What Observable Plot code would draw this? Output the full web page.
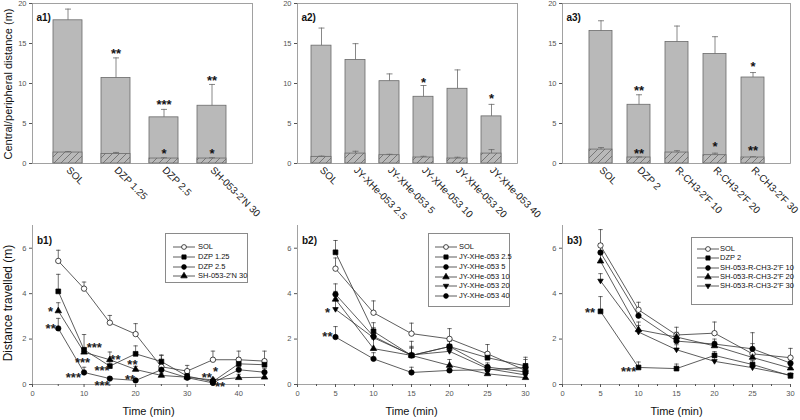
<!DOCTYPE html>
<html><head><meta charset="utf-8">
<script src="https://cdn.jsdelivr.net/npm/d3@7"></script>
<script src="https://cdn.jsdelivr.net/npm/@observablehq/plot@0.6"></script>
<style>
body{margin:0;background:#fff;}
#root{position:relative;width:800px;height:420px;overflow:hidden;font-family:"Liberation Sans",Arial,sans-serif;background:#fff;}
.ylab{position:absolute;white-space:nowrap;transform:translate(-50%,-50%) rotate(-90deg);color:#111;}
.leg{position:absolute;border:1px solid #8a8a8a;background:#fff;box-sizing:border-box;}
.leg .row{position:absolute;left:0;height:10px;font-size:7.5px;color:#111;white-space:nowrap;}
.leg .row svg{position:absolute;left:0;top:0;}
.leg .row span{position:absolute;top:0;line-height:10px;}
</style></head><body>
<svg width="0" height="0" style="position:absolute"><defs>
<pattern id="hatch" patternUnits="userSpaceOnUse" width="7" height="7">
<rect width="7" height="7" fill="#b9b9b9"/>
<path d="M-1,1L1,-1M0,7L7,0M6,8L8,6" stroke="#5a5a5a" stroke-width="0.7"/>
</pattern></defs></svg>
<div id="root"></div>
<script>
// ---------- data: panel a1 ----------
const a1Groups = ["SOL", "DZP 1.25", "DZP 2.5", "SH-053-2'N 30"];
const a1Total = [17.9, 10.7, 5.77, 7.22];
const a1TotalErr = [19.3, 13.2, 6.76, 9.88];
const a1Central = [1.37, 1.2, 0.62, 0.62];
const a1CentralErr = [1.5, 1.38, 0.72, 0.72];
const a1Stars = [
  {g: "DZP 1.25", y: 14.1, s: "**"}, {g: "DZP 2.5", y: 7.7, s: "***"}, {g: "SH-053-2'N 30", y: 10.8, s: "**"},
  {g: "DZP 2.5", y: 1.58, s: "*"}, {g: "SH-053-2'N 30", y: 1.58, s: "*"}
];
// ---------- data: panel a2 ----------
const a2Groups = ["SOL", "JY-XHe-053 2.5", "JY-XHe-053 5", "JY-XHe-053 10", "JY-XHe-053 20", "JY-XHe-053 40"];
const a2Total = [14.73, 12.95, 10.29, 8.34, 9.34, 5.89];
const a2TotalErr = [16.93, 14.98, 11.2, 9.75, 11.7, 7.39];
const a2Central = [0.83, 1.24, 1.04, 0.75, 0.62, 1.24];
const a2CentralErr = [0.92, 1.53, 1.15, 0.9, 0.78, 1.74];
const a2Stars = [{g: "JY-XHe-053 10", y: 10.46, s: "*"}, {g: "JY-XHe-053 40", y: 8.5, s: "*"}];
// ---------- data: panel a3 ----------
const a3Groups = ["SOL", "DZP 2", "R-CH3-2'F 10", "R-CH3-2'F 20", "R-CH3-2'F 30"];
const a3Total = [16.56, 7.34, 15.19, 13.69, 10.75];
const a3TotalErr = [17.84, 8.59, 17.18, 15.85, 11.37];
const a3Central = [1.74, 0.75, 1.37, 1.04, 0.75];
const a3CentralErr = [1.99, 0.82, 1.6, 1.29, 0.85];
const a3Stars = [
  {g: "DZP 2", y: 9.54, s: "**"}, {g: "R-CH3-2'F 30", y: 12.5, s: "*"},
  {g: "DZP 2", y: 1.66, s: "**"}, {g: "R-CH3-2'F 20", y: 2.57, s: "*"}, {g: "R-CH3-2'F 30", y: 1.95, s: "**"}
];
// ---------- data: panel b1 ----------
const b1Time = [5, 10, 15, 20, 25, 30, 35, 40, 45];
const b1XTicks = [0, 10, 20, 30, 40];
const b1XMinor = [5, 15, 25, 35, 45];
const b1SOL = [5.44, 4.22, 2.72, 2.22, 0.78, 0.59, 1.09, 1.09, 1.03];
const b1SOLErr = [5.91, 4.51, 3.04, 2.68, 1.3, 0.84, 1.47, 1.47, 1.47];
const b1DZP125 = [4.1, 1.53, 0.81, 1.35, 1.01, 0.37, 0.13, 0.91, 0.87];
const b1DZP125Err = [4.85, 2.2, 1.0, 1.7, 1.28, 0.5, 0.2, 1.18, 1.1];
const b1DZP25 = [2.47, 0.53, 0.26, 0.18, 0.65, 0.3, 0.07, 0.65, 0.54];
const b1DZP25Err = [2.91, 0.76, 0.35, 0.25, 0.85, 0.38, 0.12, 0.8, 0.7];
const b1SH = [3.24, 1.42, 1.09, 0.66, 0.4, 0.32, 0.2, 0.3, 0.32];
const b1SHErr = [3.6, 1.6, 1.43, 0.8, 0.5, 0.4, 0.28, 0.45, 0.5];
const b1Stars = [
  {x: 4.0, y: 3.34, s: "*", a: "end"}, {x: 4.5, y: 2.6, s: "**", a: "end"},
  {x: 10.5, y: 1.76, s: "***", a: "start"}, {x: 9.7, y: 1.12, s: "***", a: "middle"},
  {x: 9.4, y: 0.44, s: "***", a: "end"}, {x: 15.1, y: 1.24, s: "**", a: "start"},
  {x: 14.95, y: 0.74, s: "***", a: "end"}, {x: 14.95, y: 0.08, s: "***", a: "end"},
  {x: 18.4, y: 1.0, s: "**", a: "start"}, {x: 19.9, y: 0.34, s: "**", a: "end"},
  {x: 34.8, y: 0.43, s: "**", a: "end"}, {x: 35.0, y: 0.7, s: "*", a: "start"},
  {x: 35.4, y: 0.03, s: "**", a: "start"}
];
// ---------- data: panel b2 ----------
const b2Time = [5, 10, 15, 20, 25, 30];
const b2XTicks = [0, 5, 10, 15, 20, 25, 30];
const b2XMinor = [2.5, 7.5, 12.5, 17.5, 22.5, 27.5];
const b2SOL = [5.1, 3.16, 2.24, 2.01, 1.35, 0.62];
const b2SOLErr = [5.57, 3.68, 2.7, 2.46, 1.76, 0.9];
const b2JY25 = [5.82, 2.34, 1.28, 1.67, 1.18, 0.82];
const b2JY25Err = [6.34, 2.72, 1.62, 1.95, 1.35, 1.2];
const b2JY5 = [3.97, 2.12, 1.28, 1.67, 0.77, 0.55];
const b2JY5Err = [4.43, 2.5, 1.9, 1.9, 0.95, 0.7];
const b2JY10 = [3.75, 1.58, 1.28, 0.84, 0.47, 0.3];
const b2JY10Err = [4.1, 2.0, 1.68, 1.1, 0.6, 0.4];
const b2JY20 = [3.31, 2.06, 1.3, 1.46, 0.7, 0.42];
const b2JY20Err = [3.7, 2.4, 1.6, 1.7, 0.85, 0.55];
const b2JY40 = [2.09, 1.13, 0.53, 0.62, 0.65, 0.75];
const b2JY40Err = [2.55, 1.4, 0.76, 0.85, 0.85, 1.1];
const b2Stars = [{x: 4.3, y: 3.32, s: "*", a: "end"}, {x: 4.6, y: 2.24, s: "**", a: "end"}];
// ---------- data: panel b3 ----------
const b3Time = [5, 10, 15, 20, 25, 30];
const b3SOL = [6.12, 3.29, 2.18, 2.26, 1.35, 1.18];
const b3SOLErr = [6.82, 3.62, 2.52, 2.75, 1.8, 1.59];
const b3DZP2 = [3.22, 0.75, 0.7, 1.28, 0.88, 0.38];
const b3DZP2Err = [3.87, 0.99, 0.9, 1.45, 1.05, 0.5];
const b3R10 = [5.81, 3.03, 1.91, 1.78, 1.57, 0.94];
const b3R10Err = [6.2, 3.3, 2.25, 2.0, 2.28, 1.1];
const b3R20 = [5.43, 2.41, 2.09, 1.7, 1.19, 0.72];
const b3R20Err = [5.75, 2.75, 2.3, 1.9, 1.4, 0.85];
const b3R30 = [4.56, 2.31, 1.53, 1.02, 0.74, 0.41];
const b3R30Err = [4.88, 2.6, 1.75, 1.2, 0.9, 0.5];
const b3Stars = [{x: 4.3, y: 3.29, s: "**", a: "end"}, {x: 9.7, y: 0.72, s: "***", a: "end"}];

// ---------- styling ----------
const FONT = '"Liberation Sans", Arial, sans-serif';
const BAR_FILL = "#b9b9b9", BAR_STROKE = "#6a6a6a", AXIS = "#8a8a8a", TICKTXT = "#555", INK = "#222";
const STAR_SIZE = 13, STAR_DY = 3.4;
const STYLE = {fontFamily: FONT, overflow: "visible", background: "transparent", color: INK};
const fmt = d => String(d);
const cap = {draw(ctx, size) { const r = Math.sqrt(size / Math.PI); ctx.moveTo(-r, 0); ctx.lineTo(r, 0); }};
const triDown = {draw(ctx, size) {
  const r = Math.sqrt(size / Math.PI) * 1.2;
  ctx.moveTo(0, r); ctx.lineTo(r * 0.95, -r * 0.6); ctx.lineTo(-r * 0.95, -r * 0.6); ctx.closePath();
}};
const root = document.getElementById("root");
function place(el, left, top) {
  el.style.position = "absolute"; el.style.left = left + "px"; el.style.top = top + "px";
  root.append(el);
}

function barPanel(cfg) {
  const rows = cfg.groups.map((g, i) => ({g, total: cfg.total[i], totalErr: cfg.totalErr[i], central: cfg.central[i], centralErr: cfg.centralErr[i]}));
  return Plot.plot({
    width: cfg.width, height: 220, marginLeft: 32, marginRight: cfg.marginRight, marginTop: 3, marginBottom: 57,
    style: STYLE,
    x: {type: "band", domain: cfg.groups, paddingInner: 0.4, paddingOuter: 0.4, insetLeft: cfg.insetLeft, insetRight: cfg.insetRight, label: null},
    y: {domain: [0, 20], label: null},
    marks: [
      Plot.barY(rows, {x: "g", y: "total", fill: BAR_FILL, stroke: BAR_STROKE, strokeWidth: 0.8}),
      Plot.ruleX(rows, {x: "g", y1: "total", y2: "totalErr", stroke: BAR_STROKE, strokeWidth: 0.8}),
      Plot.dot(rows, {x: "g", y: "totalErr", symbol: cap, r: 3, stroke: BAR_STROKE, strokeWidth: 0.8}),
      Plot.barY(rows, {x: "g", y: "central", fill: "url(#hatch)", stroke: BAR_STROKE, strokeWidth: 0.8}),
      Plot.ruleX(rows, {x: "g", y1: "central", y2: "centralErr", stroke: BAR_STROKE, strokeWidth: 0.8}),
      Plot.dot(rows, {x: "g", y: "centralErr", symbol: cap, r: 3, stroke: BAR_STROKE, strokeWidth: 0.8}),
      Plot.frame({stroke: AXIS, strokeWidth: 0.8}),
      Plot.axisY({ticks: [0, 5, 10, 15, 20], tickFormat: fmt, tickSize: 3, tickPadding: 3, fontSize: 7.5, color: TICKTXT, label: null}),
      Plot.axisX({tickRotate: 45, tickSize: 0, tickPadding: 5, fontSize: 10, color: INK, label: null}),
      Plot.text(cfg.stars, {x: "g", y: "y", text: "s", fontSize: STAR_SIZE, fontWeight: "bold", dy: STAR_DY, fill: "#111", opacity: 0.99}),
      Plot.text([cfg.label], {frameAnchor: "top-left", dx: 4, dy: 10, fontSize: 10, fontWeight: "bold", textAnchor: "start", fill: "#111"})
    ]
  });
}

function linePanel(cfg) {
  const rows = cfg.series.flatMap(s => cfg.time.map((t, i) => ({name: s.name, t, v: s.mean[i], e: s.err[i]})));
  const starMarks = ["start", "middle", "end"].map(a =>
    Plot.text(cfg.stars.filter(d => d.a === a), {x: "x", y: "y", text: "s", textAnchor: a, fontSize: STAR_SIZE, fontWeight: "bold", dy: STAR_DY, fill: "#222", opacity: 0.99}));
  return Plot.plot({
    width: cfg.width, height: 205, marginLeft: 32, marginRight: cfg.marginRight, marginTop: 10, marginBottom: 36,
    style: STYLE,
    x: {domain: [0, cfg.xMax], label: null},
    y: {domain: [0, 7], label: null},
    marks: [
      Plot.ruleX([0], {stroke: AXIS, strokeWidth: 0.8}),
      Plot.ruleY([0], {stroke: AXIS, strokeWidth: 0.8}),
      Plot.axisY({ticks: [0, 2, 4, 6], tickFormat: fmt, tickSize: 3, tickPadding: 3, fontSize: 7.5, color: TICKTXT, label: null}),
      Plot.axisX({ticks: cfg.xTicks, tickFormat: fmt, tickSize: 3, tickPadding: 3, fontSize: 7.5, color: TICKTXT, label: null}),
      Plot.axisX({ticks: cfg.xMinor, tickSize: 2, tickFormat: () => "", color: TICKTXT, label: null}),
      Plot.ruleX(rows, {x: "t", y1: "v", y2: "e", stroke: "#333", strokeWidth: 0.7}),
      Plot.dot(rows, {x: "t", y: "e", symbol: cap, r: 2.2, stroke: "#333", strokeWidth: 0.7}),
      Plot.line(rows, {x: "t", y: "v", z: "name", stroke: "#333", strokeWidth: 0.8}),
      ...cfg.series.map(s => Plot.dot(rows.filter(r => r.name === s.name),
        {x: "t", y: "v", symbol: s.symbol, r: s.r, fill: s.fill, stroke: "#000", strokeWidth: 0.7})),
      ...starMarks,
      Plot.text([cfg.label], {frameAnchor: "top-left", dx: 4.5, dy: 11, fontSize: 10, fontWeight: "bold", textAnchor: "start", fill: "#111"}),
      Plot.text(["Time (min)"], {frameAnchor: "bottom", dy: 30, fontSize: 11, fill: "#111"})
    ]
  });
}

function legend(box, items) {
  const div = document.createElement("div");
  div.className = "leg";
  div.style.left = box.left + "px"; div.style.top = box.top + "px";
  div.style.width = box.width + "px"; div.style.height = box.height + "px";
  items.forEach((it, i) => {
    const row = document.createElement("div");
    row.className = "row";
    row.style.top = (box.row0 + i * box.step - 5) + "px";
    row.style.width = (box.width - 2) + "px";
    const svg = d3.create("svg").attr("width", box.textX).attr("height", 10);
    svg.append("line").attr("x1", box.symX - 11).attr("x2", box.symX + 11).attr("y1", 5).attr("y2", 5)
      .attr("stroke", "#333").attr("stroke-width", 0.8);
    const type = it.symbol === "circle" ? d3.symbolCircle : it.symbol === "square" ? d3.symbolSquare :
      it.symbol === "triangle" ? d3.symbolTriangle : it.symbol;
    svg.append("path").attr("d", d3.symbol().type(type).size(it.size)())
      .attr("transform", `translate(${box.symX},5)`).attr("fill", it.fill).attr("stroke", "#000").attr("stroke-width", 0.7);
    row.append(svg.node());
    const span = document.createElement("span");
    span.style.left = box.textX + "px";
    span.textContent = it.name;
    row.append(span);
    div.append(row);
  });
  root.append(div);
}

function ylab(text, x, y, size) {
  const d = document.createElement("div");
  d.className = "ylab"; d.textContent = text;
  d.style.left = x + "px"; d.style.top = y + "px"; d.style.fontSize = size + "px";
  root.append(d);
}

// ---------- top row ----------
place(barPanel({groups: a1Groups, total: a1Total, totalErr: a1TotalErr, central: a1Central, centralErr: a1CentralErr,
  stars: a1Stars, label: "a1)", width: 265, marginRight: 13, insetLeft: 1, insetRight: 5.6}), 0, 0);
place(barPanel({groups: a2Groups, total: a2Total, totalErr: a2TotalErr, central: a2Central, centralErr: a2CentralErr,
  stars: a2Stars, label: "a2)", width: 265, marginRight: 13, insetLeft: 0.4, insetRight: 1.4}), 265, 0);
place(barPanel({groups: a3Groups, total: a3Total, totalErr: a3TotalErr, central: a3Central, centralErr: a3CentralErr,
  stars: a3Stars, label: "a3)", width: 270, marginRight: 10, insetLeft: 11, insetRight: 10.4}), 530, 0);

// ---------- bottom row ----------
const b1Series = [
  {name: "SOL", mean: b1SOL, err: b1SOLErr, symbol: "circle", fill: "white", r: 2.7},
  {name: "DZP 1.25", mean: b1DZP125, err: b1DZP125Err, symbol: "square", fill: "black", r: 2.7},
  {name: "DZP 2.5", mean: b1DZP25, err: b1DZP25Err, symbol: "circle", fill: "black", r: 2.7},
  {name: "SH-053-2'N 30", mean: b1SH, err: b1SHErr, symbol: "triangle", fill: "black", r: 2.4}
];
const b2Series = [
  {name: "SOL", mean: b2SOL, err: b2SOLErr, symbol: "circle", fill: "white", r: 2.7},
  {name: "JY-XHe-053 2.5", mean: b2JY25, err: b2JY25Err, symbol: "square", fill: "black", r: 2.7},
  {name: "JY-XHe-053 5", mean: b2JY5, err: b2JY5Err, symbol: "circle", fill: "black", r: 2.7},
  {name: "JY-XHe-053 10", mean: b2JY10, err: b2JY10Err, symbol: "triangle", fill: "black", r: 2.4},
  {name: "JY-XHe-053 20", mean: b2JY20, err: b2JY20Err, symbol: triDown, fill: "black", r: 2.4},
  {name: "JY-XHe-053 40", mean: b2JY40, err: b2JY40Err, symbol: "circle", fill: "black", r: 2.7}
];
const b3Series = [
  {name: "SOL", mean: b3SOL, err: b3SOLErr, symbol: "circle", fill: "white", r: 2.7},
  {name: "DZP 2", mean: b3DZP2, err: b3DZP2Err, symbol: "square", fill: "black", r: 2.7},
  {name: "SH-053-R-CH3-2'F 10", mean: b3R10, err: b3R10Err, symbol: "circle", fill: "black", r: 2.7},
  {name: "SH-053-R-CH3-2'F 20", mean: b3R20, err: b3R20Err, symbol: "triangle", fill: "black", r: 2.4},
  {name: "SH-053-R-CH3-2'F 30", mean: b3R30, err: b3R30Err, symbol: triDown, fill: "black", r: 2.4}
];
place(linePanel({time: b1Time, series: b1Series, xMax: 45, xTicks: b1XTicks, xMinor: b1XMinor, stars: b1Stars,
  label: "b1)", width: 270, marginRight: 6}), 0, 215);
place(linePanel({time: b2Time, series: b2Series, xMax: 30, xTicks: b2XTicks, xMinor: b2XMinor, stars: b2Stars,
  label: "b2)", width: 265, marginRight: 5}), 265, 215);
place(linePanel({time: b3Time, series: b3Series, xMax: 30, xTicks: b2XTicks, xMinor: b2XMinor, stars: b3Stars,
  label: "b3)", width: 270, marginRight: 10}), 530, 215);

const legItems = s => s.map(d => ({name: d.name, symbol: d.symbol, fill: d.fill, size: 18}));
legend({left: 165, top: 233, width: 83, height: 50, row0: 13.3, step: 9.7, symX: 18, textX: 32}, legItems(b1Series));
legend({left: 428, top: 233, width: 82, height: 74, row0: 13.3, step: 9.75, symX: 17, textX: 30}, legItems(b2Series));
legend({left: 691, top: 236.7, width: 102, height: 68, row0: 11.6, step: 9.2, symX: 16, textX: 28}, legItems(b3Series));

ylab("Central/peripheral distance (m)", 8, 84, 11);
ylab("Distance travelled (m)", 8, 303, 12);
</script>
</body></html>
